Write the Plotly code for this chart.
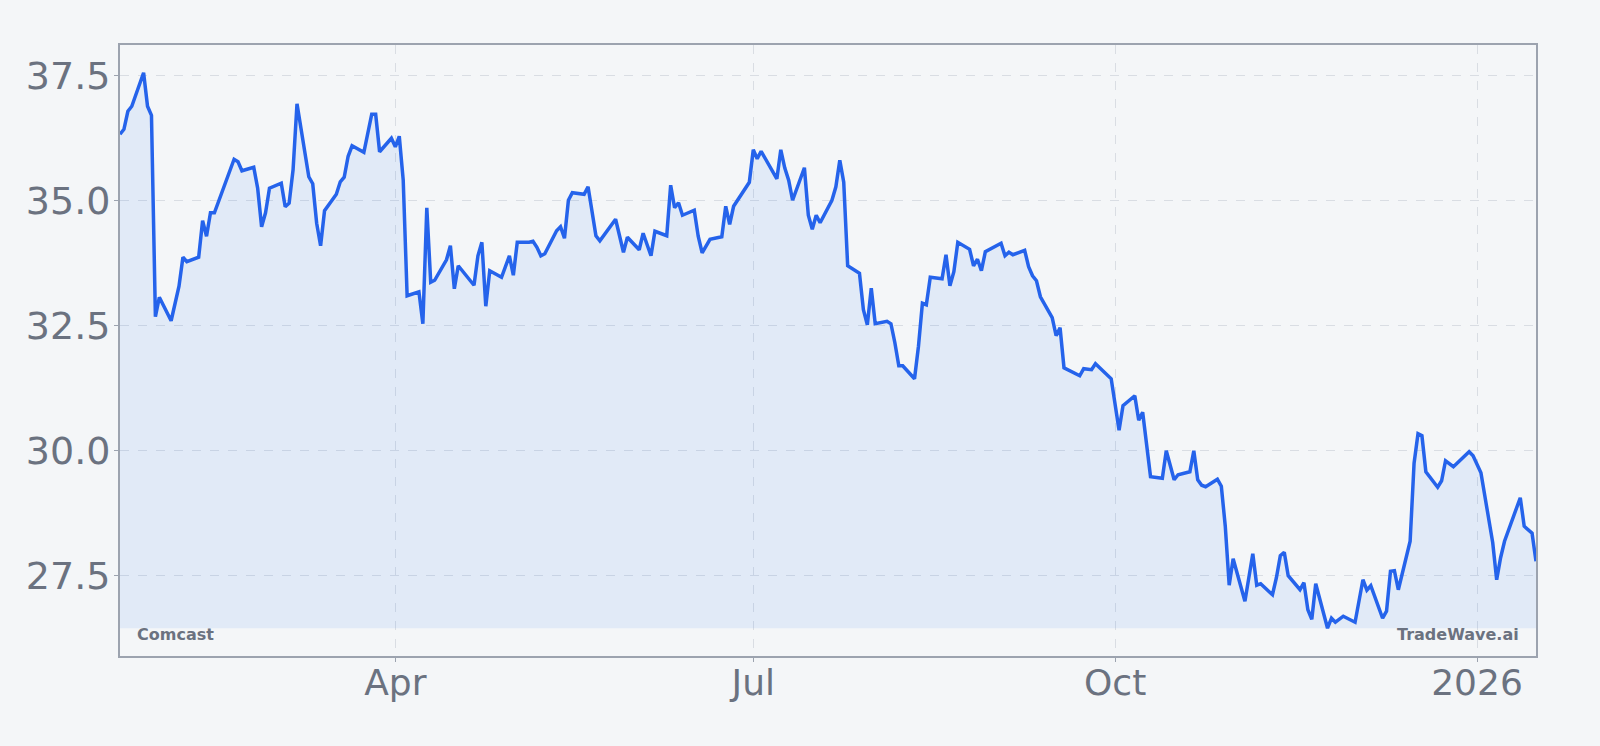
import plotly.graph_objects as go

dates = [
    "2025-01-21", "2025-01-22", "2025-01-23", "2025-01-24", "2025-01-27", "2025-01-28", "2025-01-29", "2025-01-30", "2025-01-31",
    "2025-02-03", "2025-02-05", "2025-02-06", "2025-02-07", "2025-02-10", "2025-02-11", "2025-02-12", "2025-02-13", "2025-02-14",
    "2025-02-19", "2025-02-20", "2025-02-21", "2025-02-24", "2025-02-25", "2025-02-26", "2025-02-27", "2025-02-28",
    "2025-03-03", "2025-03-04", "2025-03-05", "2025-03-06", "2025-03-07", "2025-03-10", "2025-03-11", "2025-03-12", "2025-03-13",
    "2025-03-14", "2025-03-17", "2025-03-18", "2025-03-19", "2025-03-20", "2025-03-21", "2025-03-24", "2025-03-26", "2025-03-27",
    "2025-03-28", "2025-03-31",
    "2025-04-01", "2025-04-02", "2025-04-03", "2025-04-04", "2025-04-07", "2025-04-08", "2025-04-09", "2025-04-10", "2025-04-11",
    "2025-04-14", "2025-04-15", "2025-04-16", "2025-04-17", "2025-04-21", "2025-04-22", "2025-04-23", "2025-04-24", "2025-04-25",
    "2025-04-28", "2025-04-30",
    "2025-05-01", "2025-05-02", "2025-05-05", "2025-05-06", "2025-05-07", "2025-05-08", "2025-05-09", "2025-05-12", "2025-05-13",
    "2025-05-14", "2025-05-15", "2025-05-16", "2025-05-19", "2025-05-20", "2025-05-22", "2025-05-23", "2025-05-27", "2025-05-29",
    "2025-05-30",
    "2025-06-02", "2025-06-03", "2025-06-05", "2025-06-06", "2025-06-09", "2025-06-10", "2025-06-11", "2025-06-12", "2025-06-13",
    "2025-06-16", "2025-06-17", "2025-06-18", "2025-06-20", "2025-06-23", "2025-06-24", "2025-06-25", "2025-06-26", "2025-06-30",
    "2025-07-01", "2025-07-02", "2025-07-03", "2025-07-07", "2025-07-08", "2025-07-09", "2025-07-10", "2025-07-11", "2025-07-14",
    "2025-07-15", "2025-07-16", "2025-07-17", "2025-07-18", "2025-07-21", "2025-07-22", "2025-07-23", "2025-07-24", "2025-07-25",
    "2025-07-28", "2025-07-29", "2025-07-30", "2025-07-31",
    "2025-08-01", "2025-08-04", "2025-08-05", "2025-08-06", "2025-08-07", "2025-08-08", "2025-08-11", "2025-08-12", "2025-08-13",
    "2025-08-14", "2025-08-15", "2025-08-18", "2025-08-19", "2025-08-20", "2025-08-21", "2025-08-22", "2025-08-25", "2025-08-26",
    "2025-08-27", "2025-08-28", "2025-08-29",
    "2025-09-02", "2025-09-03", "2025-09-04", "2025-09-05", "2025-09-08", "2025-09-09", "2025-09-10", "2025-09-11", "2025-09-12",
    "2025-09-15", "2025-09-16", "2025-09-17", "2025-09-18", "2025-09-22", "2025-09-23", "2025-09-25", "2025-09-26", "2025-09-30",
    "2025-10-02", "2025-10-03", "2025-10-06", "2025-10-07", "2025-10-08", "2025-10-10", "2025-10-13", "2025-10-14", "2025-10-16",
    "2025-10-17", "2025-10-20", "2025-10-21", "2025-10-22", "2025-10-23", "2025-10-24", "2025-10-27", "2025-10-28", "2025-10-29",
    "2025-10-30", "2025-10-31",
    "2025-11-03", "2025-11-05", "2025-11-06", "2025-11-07", "2025-11-10", "2025-11-11", "2025-11-12", "2025-11-13", "2025-11-14",
    "2025-11-17", "2025-11-18", "2025-11-19", "2025-11-20", "2025-11-21", "2025-11-24", "2025-11-25", "2025-11-26", "2025-11-28",
    "2025-12-01", "2025-12-03", "2025-12-04", "2025-12-05", "2025-12-08", "2025-12-09", "2025-12-10", "2025-12-11", "2025-12-12",
    "2025-12-15", "2025-12-16", "2025-12-17", "2025-12-18", "2025-12-19", "2025-12-22", "2025-12-23", "2025-12-24", "2025-12-26",
    "2025-12-30", "2025-12-31",
    "2026-01-02", "2026-01-05", "2026-01-06", "2026-01-07", "2026-01-08", "2026-01-12", "2026-01-13", "2026-01-15", "2026-01-16",
]

close_prices = [
    36.32, 36.42, 36.78, 36.88, 37.55, 36.88, 36.70, 32.67, 33.06,
    32.59, 33.28, 33.86, 33.77, 33.86, 34.59, 34.28, 34.75, 34.75,
    35.82, 35.77, 35.59, 35.66, 35.24, 34.47, 34.75, 35.24,
    35.34, 34.87, 34.94, 35.61, 36.93, 35.47, 35.33, 34.54, 34.09,
    34.79, 35.12, 35.37, 35.46, 35.88, 36.09, 35.96, 36.72, 36.72,
    35.97, 36.24,
    36.07, 36.28, 35.41, 33.09, 33.17, 32.53, 34.85, 33.36, 33.40,
    33.81, 34.09, 33.23, 33.69, 33.30, 33.89, 34.16, 32.88, 33.59,
    33.46, 33.89,
    33.50, 34.16, 34.16, 34.18, 34.06, 33.89, 33.93, 34.39, 34.47,
    34.24, 35.00, 35.15, 35.12, 35.27, 34.29, 34.19, 34.62, 33.96,
    34.26,
    34.01, 34.34, 33.89, 34.38, 34.29, 35.30, 34.85, 34.95, 34.70,
    34.80, 34.28, 33.95, 34.22, 34.27, 34.88, 34.52, 34.88, 35.36,
    36.01, 35.83, 35.98, 35.43, 36.01, 35.65, 35.40, 35.00, 35.65,
    34.70, 34.42, 34.70, 34.55, 35.00, 35.27, 35.80, 35.36, 33.69,
    33.54, 32.81, 32.51, 33.24,
    32.53, 32.58, 32.53, 32.15, 31.69, 31.69, 31.43, 32.08, 32.94,
    32.91, 33.46, 33.43, 33.91, 33.29, 33.57, 34.16, 34.02, 33.69,
    33.82, 33.59, 33.97,
    34.14, 33.89, 33.96, 33.91, 34.00, 33.67, 33.49, 33.39, 33.07,
    32.65, 32.29, 32.45, 31.65, 31.49, 31.63, 31.61, 31.73, 31.43,
    30.40, 30.89, 31.09, 30.60, 30.76, 29.47, 29.44, 29.99, 29.41,
    29.51, 29.57, 29.99, 29.41, 29.30, 29.27, 29.42, 29.28, 28.48,
    27.30, 27.83,
    26.98, 27.93, 27.30, 27.33, 27.11, 27.45, 27.89, 27.96, 27.49,
    27.21, 27.35, 26.81, 26.62, 27.33, 26.44, 26.64, 26.56, 26.68,
    26.56, 27.41, 27.20, 27.29, 26.64, 26.78, 27.58, 27.59, 27.21,
    28.18, 29.74, 30.33, 30.29, 29.57, 29.26, 29.39, 29.79, 29.67,
    29.97, 29.89,
    29.55, 28.15, 27.41, 27.85, 28.18, 29.05, 28.48, 28.34, 27.78,
]

x_tick_vals = ["2025-04-01", "2025-07-01", "2025-10-01", "2026-01-01"]
x_tick_text = ["Apr", "Jul", "Oct", "2026"]
y_tick_vals = [27.5, 30.0, 32.5, 35.0, 37.5]
y_tick_text = ["27.5", "30.0", "32.5", "35.0", "37.5"]

company = "Comcast"
brand = "TradeWave.ai"

lo = min(close_prices)
hi = max(close_prices)
pad = (hi - lo) * 0.05

BG = "#f4f6f8"
GRID = "#d9dde3"
FRAME = "#9ca3af"
TXT = "#6b7280"
LINE = "#2563eb"

fig = go.Figure()
fig.add_trace(go.Scatter(
    x=dates, y=[lo] * len(dates), mode="lines",
    line=dict(width=0, color=LINE), hoverinfo="skip", showlegend=False,
))
fig.add_trace(go.Scatter(
    x=dates, y=close_prices, mode="lines",
    line=dict(color=LINE, width=3.5),
    fill="tonexty", fillcolor="rgba(59,130,246,0.10)",
    showlegend=False, name=company,
))

fig.update_layout(
    width=1600, height=746,
    paper_bgcolor=BG, plot_bgcolor=BG,
    margin=dict(l=120, r=64, t=45, b=90),
    font=dict(family="DejaVu Sans", color=TXT),
    showlegend=False,
)
fig.update_xaxes(
    range=[dates[0], dates[-1]],
    tickmode="array", tickvals=x_tick_vals, ticktext=x_tick_text,
    tickfont=dict(size=36, color=TXT),
    showgrid=True, gridcolor=GRID, griddash="dash", gridwidth=1,
    showline=True, linecolor=FRAME, linewidth=2, mirror=True,
    ticks="outside", ticklen=4, tickcolor=FRAME, tickwidth=1,
    ticklabelstandoff=-10,
    zeroline=False,
)
fig.update_yaxes(
    range=[lo - pad, hi + pad],
    tickmode="array", tickvals=y_tick_vals, ticktext=y_tick_text,
    tickfont=dict(size=38, color=TXT),
    showgrid=True, gridcolor=GRID, griddash="dash", gridwidth=1,
    showline=True, linecolor=FRAME, linewidth=2, mirror=True,
    ticks="outside", ticklen=4, tickcolor=FRAME, tickwidth=1,
    ticklabelstandoff=-4,
    zeroline=False,
)
fig.add_annotation(
    text=f"<b>{company}</b>", xref="paper", yref="paper",
    x=0.0106, y=0.017, xanchor="left", yanchor="bottom",
    showarrow=False, font=dict(size=16, color=TXT, family="DejaVu Sans"),
)
fig.add_annotation(
    text=f"<b>{brand}</b>", xref="paper", yref="paper",
    x=0.9894, y=0.017, xanchor="right", yanchor="bottom",
    showarrow=False, font=dict(size=16, color=TXT, family="DejaVu Sans"),
)

fig.write_html(
    "out.html",
    config={"displayModeBar": False},
    post_script="document.body.style.margin='0';",
)
